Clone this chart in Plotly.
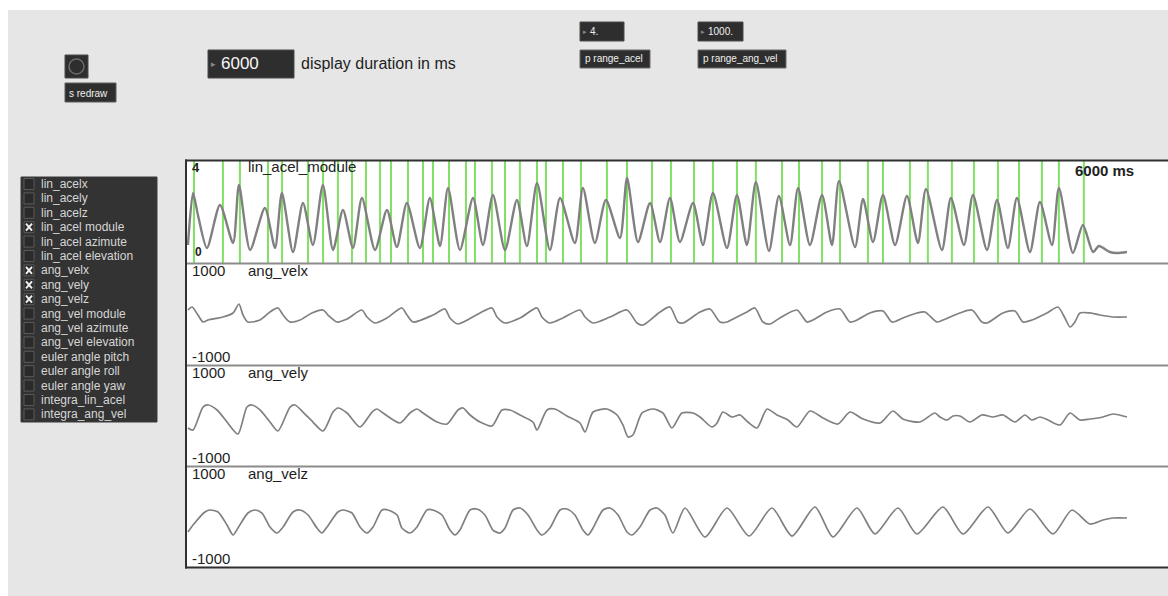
import plotly.graph_objects as go

# page is 1168x596; body margin is removed in the page so the figure fills the window
PAGE_W, PAGE_H = 1168, 596
OFF = 0
W, H = PAGE_W - OFF, PAGE_H - OFF

# ---------------- data (time in ms, 6000 ms window) ----------------
lin_acel_t = [6, 37, 67, 122, 202, 282, 318, 386, 477, 539, 581, 649, 710, 771, 832, 894, 955, 1016, 1071, 1151,
              1224, 1285, 1346, 1426, 1487, 1549, 1598, 1671, 1751, 1812, 1873, 1947, 2020, 2081, 2143, 2222, 2284,
              2375, 2424, 2497, 2565, 2651, 2694, 2761, 2835, 2896, 2957, 3018, 3098, 3159, 3220, 3306, 3367, 3428,
              3483, 3563, 3624, 3692, 3741, 3814, 3888, 3949, 3992, 4090, 4139, 4200, 4261, 4335, 4408, 4475, 4524,
              4622, 4677, 4757, 4812, 4898, 4959, 5026, 5081, 5161, 5222, 5296, 5338, 5424, 5485, 5547, 5583, 5650,
              5693, 5755]
lin_acel_v = [0.68, 2.76, 1.88, 0.56, 2.28, 0.76, 3.08, 0.48, 2.16, 0.56, 2.76, 0.40, 2.36, 0.68, 3.08, 0.48, 2.08,
              0.56, 2.56, 0.48, 2.08, 0.60, 2.36, 0.56, 2.56, 0.64, 2.96, 0.48, 2.56, 0.68, 2.68, 0.48, 2.48, 0.64,
              3.16, 0.48, 2.56, 0.76, 2.96, 0.76, 2.48, 0.96, 3.36, 0.80, 2.36, 0.80, 2.56, 0.80, 2.36, 0.68, 2.76,
              0.56, 2.68, 0.68, 3.20, 0.44, 2.64, 0.68, 2.96, 0.68, 2.68, 0.68, 3.24, 0.60, 2.52, 0.80, 2.68, 0.68,
              2.64, 0.76, 2.92, 0.48, 2.56, 0.68, 2.68, 0.48, 2.48, 0.56, 2.56, 0.40, 2.40, 0.68, 2.96, 0.36, 1.48,
              0.40, 0.64, 0.40, 0.36, 0.40]

beat_marks_t = [43, 220, 324, 496, 582, 741, 833, 924, 1010, 1096, 1182, 1249, 1353, 1445, 1506, 1604, 1708, 1763,
                1867, 1947, 2038, 2143, 2198, 2302, 2412, 2571, 2694, 2847, 2963, 3104, 3220, 3367, 3483, 3643, 3747,
                3888, 3998, 4169, 4261, 4426, 4536, 4683, 4818, 4965, 5094, 5234, 5338, 5491]

ang_velx_t = [6, 31, 67, 98, 129, 220, 282, 318, 343, 373, 447, 508, 557, 588, 631, 692, 765, 833, 863, 918, 980,
              1071, 1102, 1151, 1224, 1316, 1347, 1384, 1506, 1579, 1610, 1659, 1794, 1867, 1898, 1947, 2039, 2143,
              2173, 2222, 2302, 2406, 2437, 2486, 2590, 2694, 2755, 2792, 2896, 2957, 3006, 3037, 3141, 3202, 3263,
              3306, 3355, 3428, 3477, 3526, 3569, 3630, 3734, 3796, 3832, 3918, 3998, 4059, 4102, 4181, 4261, 4316,
              4383, 4469, 4518, 4592, 4628, 4732, 4806, 4867, 4898, 4996, 5069, 5118, 5173, 5265, 5332, 5375, 5406,
              5436, 5467, 5528, 5589, 5669, 5755]
ang_velx_v = [78, 137, -20, -157, -118, -59, 20, 196, -20, -157, -118, 39, 118, -20, -157, -118, 20, 78, -20, -157,
              -98, 78, -59, -176, -78, 118, -20, -157, -20, 98, -78, -196, 20, 118, -59, -176, -78, 118, -59, -176,
              -78, 78, -59, -176, -59, 78, -176, -216, 39, 137, -157, -176, 39, 98, -157, -157, -78, 39, 118, -157,
              -196, -78, 78, -157, -118, 39, 98, -157, -118, 20, 59, -157, -78, 20, 39, -157, -118, 20, 78, -157,
              -176, 20, 59, -157, -118, 20, 137, -78, -255, -157, 20, 20, -20, -59, -59]

ang_vely_t = [6, 37, 98, 129, 184, 245, 312, 367, 398, 447, 508, 557, 631, 661, 710, 771, 833, 894, 924, 980, 1059,
              1133, 1163, 1200, 1304, 1365, 1408, 1445, 1531, 1592, 1659, 1690, 1733, 1794, 1867, 1928, 1977, 2039,
              2118, 2143, 2204, 2253, 2326, 2406, 2437, 2486, 2571, 2633, 2669, 2700, 2730, 2786, 2853, 2914, 2969,
              3030, 3098, 3141, 3214, 3245, 3281, 3336, 3386, 3434, 3490, 3551, 3612, 3679, 3734, 3814, 3894, 3985,
              4059, 4139, 4243, 4322, 4383, 4487, 4579, 4610, 4653, 4690, 4732, 4794, 4867, 4934, 4996, 5069, 5130,
              5173, 5222, 5271, 5345, 5406, 5467, 5528, 5608, 5669, 5755]
ang_vely_v = [-235, -274, 176, 216, 118, -118, -353, 176, 216, 118, -118, -294, 176, 216, 78, -118, -294, 78, 157,
              59, -216, 78, 137, 59, -137, 59, 137, 59, -118, -157, 118, 157, 20, -118, -196, 118, 118, 20, -118,
              -274, 118, 137, 0, -137, -314, 78, 137, 20, -176, -412, -372, 59, 137, 59, -235, 59, 59, -20, -216,
              -137, 78, -20, 20, -118, -235, 137, 20, -78, -216, 98, -39, -157, 78, -59, -137, 98, -59, -118, 59,
              -20, -78, 0, 0, -118, 20, -20, 20, -118, 20, -78, -20, -78, -176, 59, -78, -59, -20, 39, -20]

ang_velz_t = [6, 37, 110, 141, 190, 245, 282, 312, 373, 416, 459, 508, 551, 588, 649, 692, 741, 796, 826, 857, 924,
              955, 1010, 1059, 1102, 1139, 1194, 1231, 1286, 1316, 1365, 1408, 1469, 1506, 1561, 1610, 1641, 1671,
              1733, 1775, 1824, 1873, 1916, 1947, 1996, 2039, 2088, 2143, 2173, 2222, 2284, 2326, 2375, 2424, 2455,
              2486, 2547, 2590, 2639, 2694, 2724, 2773, 2835, 2877, 2926, 2975, 3049, 3171, 3306, 3441, 3581, 3704,
              3845, 3955, 4102, 4212, 4353, 4469, 4628, 4751, 4904, 5026, 5161, 5302, 5418, 5528, 5608, 5669, 5755]
ang_velz_v = [-294, -157, 98, 137, 98, -157, -353, -216, 78, 137, 78, -196, -314, -196, 98, 137, 39, -216, -314,
              -196, 98, 137, 78, -196, -314, -196, 137, 137, 39, -216, -314, -196, 137, 137, 39, -255, -353, -255,
              137, 157, 39, -255, -314, -216, 137, 176, 39, -255, -353, -216, 137, 157, 39, -255, -353, -216, 137,
              176, 39, -294, -353, -196, 137, 176, 39, -314, 176, -392, 176, -372, 176, -372, 196, -392, 176, -333,
              176, -333, 196, -333, 196, -314, 157, -333, 137, -137, -59, -20, -20]

menu_items = ["lin_acelx", "lin_acely", "lin_acelz", "lin_acel module", "lin_acel azimute", "lin_acel elevation",
              "ang_velx", "ang_vely", "ang_velz", "ang_vel module", "ang_vel azimute", "ang_vel elevation",
              "euler angle pitch", "euler angle roll", "euler angle yaw", "integra_lin_acel", "integra_ang_vel"]
menu_checked = [False, False, False, True, False, False, True, True, True, False, False, False, False, False,
                False, False, False]

# ---------------- helpers (page pixel -> paper fraction) ----------------
def X(px):
    return (px - OFF) / W

def Y(py):
    return 1 - (py - OFF) / H

FONT = "Liberation Sans, Arial, sans-serif"
BG = "#e6e6e6"
DARK = "#2e2e2e"
SIG = "#808080"

shapes = []
annotations = []

def rect(x0, y0, x1, y1, fill, line=None, lw=0, layer="below"):
    shapes.append(dict(type="rect", xref="paper", yref="paper", x0=X(x0), x1=X(x1), y0=Y(y1), y1=Y(y0),
                       fillcolor=fill, line=dict(color=line or fill, width=lw), layer=layer))

def hline(x0, x1, py, color, w, layer="above"):
    shapes.append(dict(type="line", xref="paper", yref="paper", x0=X(x0), x1=X(x1), y0=Y(py), y1=Y(py),
                       line=dict(color=color, width=w), layer=layer))

def vline(px, y0, y1, color, w, layer="above"):
    shapes.append(dict(type="line", xref="paper", yref="paper", x0=X(px), x1=X(px), y0=Y(y0), y1=Y(y1),
                       line=dict(color=color, width=w), layer=layer))

def text(px, py, s, size, color, anchor="left", bold=False):
    annotations.append(dict(x=X(px), y=Y(py), xref="paper", yref="paper", text=("<b>%s</b>" % s) if bold else s,
                            showarrow=False, xanchor=anchor, yanchor="middle",
                            font=dict(family=FONT, size=size, color=color)))

# grey patcher background (white band at top and left)
rect(8, 10, PAGE_W + 4, PAGE_H + 4, BG)

# plot panel white area
rect(186, 160, PAGE_W + 4, 568, "#ffffff")

# ---------------- UI objects ----------------
# bang
rect(65, 55, 88, 78, DARK, "#4a4a4a", 1)
shapes.append(dict(type="circle", xref="paper", yref="paper", x0=X(69), x1=X(84), y0=Y(74), y1=Y(59),
                   line=dict(color="#6a6a6a", width=1.5), fillcolor="rgba(0,0,0,0)", layer="above"))
# s redraw
rect(65, 83, 116, 102, DARK, "#5c5c5c", 1)
text(67, 93, "s redraw", 10, "#f0f0f0")
# number box 6000
rect(208, 50, 294, 78, DARK, "#4a4a4a", 1)
text(209, 64, "▸", 9, "#8a8a8a")
text(219, 64, "6000", 17, "#f5f5f5")
text(299, 63, "display duration in ms", 16, "#1e1e1e")
# range acel
rect(580, 22, 624, 41, DARK, "#4a4a4a", 1)
text(581, 31.5, "▸", 7, "#8a8a8a")
text(588, 31.5, "4.", 10, "#f0f0f0")
rect(580, 50, 650, 68, DARK, "#6a6a6a", 1)
text(583, 59, "p range_acel", 10, "#f0f0f0")
# range ang vel
rect(698, 22, 743, 41, DARK, "#4a4a4a", 1)
text(699, 31.5, "▸", 7, "#8a8a8a")
text(706, 31.5, "1000.", 10, "#f0f0f0")
rect(698, 50, 786, 68, DARK, "#6a6a6a", 1)
text(701, 59, "p range_ang_vel", 10, "#f0f0f0")

# checkbox menu
rect(21, 177, 157, 422, "#333333", "#3a3a3a", 1)
row_h = 14.4
for i, (lab, chk) in enumerate(zip(menu_items, menu_checked)):
    cy = 184 + i * row_h
    rect(24, cy - 5.5, 34, cy + 5.5, "#2a2a2a", "#5a5a5a", 1, layer="above")
    if chk:
        shapes.append(dict(type="line", xref="paper", yref="paper", x0=X(26), x1=X(32), y0=Y(cy - 3.5),
                           y1=Y(cy + 3.5), line=dict(color="#f0f0f0", width=2), layer="above"))
        shapes.append(dict(type="line", xref="paper", yref="paper", x0=X(26), x1=X(32), y0=Y(cy + 3.5),
                           y1=Y(cy - 3.5), line=dict(color="#f0f0f0", width=2), layer="above"))
    text(39, cy, lab, 12, "#d6d6d6")

# ---------------- panels ----------------
x_dom = [X(187), 1.0]
panels = [(161, 263, [-0.04, 4.04]), (264, 365, [-1000, 980]), (366, 466, [-980, 980]), (467, 567, [-980, 980])]
# x range chosen so that 6000 ms spans the visible panel width
x_range = [0, 6000 * (PAGE_W - 187) / 980.0]

fig = go.Figure()

# beat markers (panel 1)
bx, by = [], []
for t in beat_marks_t:
    bx += [t, t, None]
    by += [-0.04, 4.04, None]
fig.add_trace(go.Scatter(x=bx, y=by, mode="lines", line=dict(color="#80e262", width=2), xaxis="x", yaxis="y",
                         hoverinfo="skip"))

series = [(lin_acel_t, lin_acel_v, "y", 2.4), (ang_velx_t, ang_velx_v, "y2", 1.7),
          (ang_vely_t, ang_vely_v, "y3", 1.7), (ang_velz_t, ang_velz_v, "y4", 1.7)]
for t, v, ya, w in series:
    fig.add_trace(go.Scatter(x=t, y=v, mode="lines", line=dict(color=SIG, width=w, shape="spline", smoothing=0.7),
                             xaxis="x", yaxis=ya))

layout_axes = dict(xaxis=dict(domain=x_dom, range=x_range, visible=False, fixedrange=True))
for i, (top, bot, rng) in enumerate(panels):
    key = "yaxis" if i == 0 else "yaxis%d" % (i + 1)
    layout_axes[key] = dict(domain=[Y(bot), Y(top)], range=rng, visible=False, anchor="x", fixedrange=True)

# separators and border
hline(186, PAGE_W + 4, 263.5, "#8c8c8c", 2)
hline(186, PAGE_W + 4, 365.5, "#8c8c8c", 2)
hline(186, PAGE_W + 4, 466.5, "#8c8c8c", 2)
hline(185, PAGE_W + 4, 160.5, "#303030", 2)
hline(185, PAGE_W + 4, 567.5, "#303030", 2)
vline(186, 159.5, 568.5, "#303030", 2)

# panel labels
text(190, 167, "4", 13, "#222222", bold=True)
text(193, 252, "0", 12, "#222222", bold=True)
text(246, 166, "lin_acel_module", 15, "#222222")
text(1073, 170, "6000 ms", 15, "#222222", bold=True)
for top, bot, name in [(264, 365, "ang_velx"), (366, 466, "ang_vely"), (467, 567, "ang_velz")]:
    text(190, top + 6, "1000", 15, "#1e1e1e")
    text(246, top + 6, name, 15, "#1e1e1e")
    text(190, bot - 9, "-1000", 15, "#1e1e1e")

fig.update_layout(width=W, height=H, margin=dict(l=0, r=0, t=0, b=0), paper_bgcolor="#ffffff",
                  plot_bgcolor="rgba(0,0,0,0)", showlegend=False, shapes=shapes, annotations=annotations,
                  **layout_axes)

fig.write_html("out.html", config={"displayModeBar": False, "staticPlot": True},
               post_script="document.body.style.margin='0';document.body.style.overflow='hidden';"
                           "document.documentElement.style.overflow='hidden';")
